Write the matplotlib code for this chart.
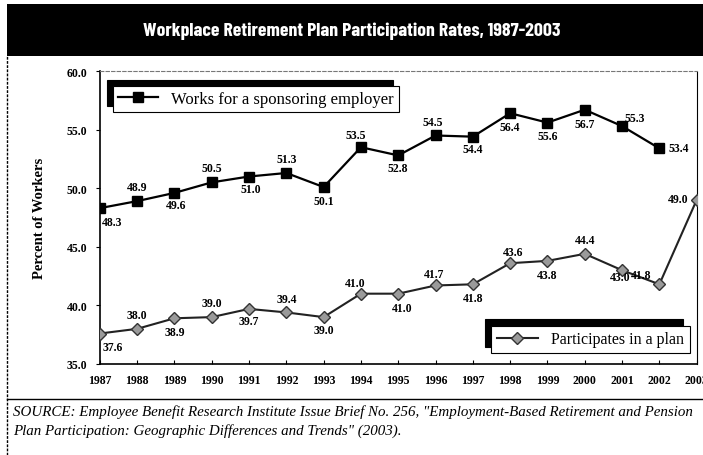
import matplotlib.pyplot as plt
import numpy as np

# chart data
years = [1987, 1988, 1989, 1990, 1991, 1992, 1993, 1994, 1995,
         1996, 1997, 1998, 1999, 2000, 2001, 2002, 2003]
sponsor_years = years[:-1]
sponsor_vals = [48.3, 48.9, 49.6, 50.5, 51.0, 51.3, 50.1, 53.5, 52.8,
                54.5, 54.4, 56.4, 55.6, 56.7, 55.3, 53.4]
plan_vals = [37.6, 38.0, 38.9, 39.0, 39.7, 39.4, 39.0, 41.0, 41.0,
             41.7, 41.8, 43.6, 43.8, 44.4, 43.0, 41.8, 49.0]
yticks = [35.0, 40.0, 45.0, 50.0, 55.0, 60.0]

title = "Workplace Retirement Plan Participation Rates, 1987-2003"
source_1 = ("SOURCE: Employee Benefit Research Institute Issue Brief No. 256, "
            "\"Employment-Based Retirement and Pension")
source_2 = "Plan Participation: Geographic Differences and Trends\" (2003)."

# where each value label sits relative to its marker (points)
sponsor_offsets = [(9, -10), (0, 10), (1, -9), (0, 10), (1, -9), (0, 10),
                   (0, -10), (-4, 9), (0, -9), (-2, 10), (0, -9), (0, -10),
                   (0, -10), (0, -10), (9, 6), (14, 0)]
plan_offsets = [(9, -10), (0, 10), (0, -10), (0, 10), (0, -9), (0, 10),
                (0, -9), (-4, 8), (3, -10), (-1, 8), (0, -10), (2, 8),
                (0, -10), (0, 10), (-1, -5), (-13, 7), (-13, 1)]

serif = "Liberation Serif"

fig = plt.figure(figsize=(7.03, 4.56), dpi=100)

# black title band
fig.patches.append(plt.Rectangle((0.01, 0.875), 0.99, 0.114, transform=fig.transFigure,
                                 facecolor="black", edgecolor="none"))
fig.text(0.5, 0.932, title, color="white", ha="center", va="center",
         fontsize=14.2, fontweight="bold", family=["Barlow Condensed", "DejaVu Sans"],
         fontstretch="condensed")

# frame lines around the chart area
fig.add_artist(plt.Line2D([0.01, 0.01], [0.0, 0.875], transform=fig.transFigure,
                          color="black", lw=1.0, ls=(0, (2, 1))))
fig.add_artist(plt.Line2D([0.01, 1.0], [0.123, 0.123], transform=fig.transFigure,
                          color="black", lw=1.0))

ax = fig.add_axes([0.142, 0.1996, 0.849, 0.6424])

ax.plot(sponsor_years, sponsor_vals, color="black", lw=1.6, marker="s",
        markersize=6.5, markerfacecolor="black", markeredgecolor="black",
        label="Works for a sponsoring employer", zorder=3)
ax.plot(years, plan_vals, color="#222222", lw=1.5, marker="D",
        markersize=6, markerfacecolor="#9a9a9a", markeredgecolor="#333333",
        label="Participates in a plan", zorder=3)

# value labels
for x, v, off in zip(sponsor_years, sponsor_vals, sponsor_offsets):
    ax.annotate(f"{v:.1f}", (x, v), xytext=off, textcoords="offset points",
                ha="center", va="center", fontsize=8.5, fontweight="bold",
                family=serif)
for x, v, off in zip(years, plan_vals, plan_offsets):
    ax.annotate(f"{v:.1f}", (x, v), xytext=off, textcoords="offset points",
                ha="center", va="center", fontsize=8.5, fontweight="bold",
                family=serif)

ax.set_xlim(years[0], years[-1])
ax.set_ylim(yticks[0], yticks[-1])
ax.set_xticks(years)
ax.set_xticklabels([str(y) for y in years])
ax.set_yticks(yticks)
ax.set_yticklabels([f"{t:.1f}" for t in yticks])
for lbl in ax.get_xticklabels() + ax.get_yticklabels():
    lbl.set_family(serif)
    lbl.set_fontweight("bold")
    lbl.set_fontsize(8.5)
ax.tick_params(axis="y", length=3, pad=6)
ax.tick_params(axis="x", length=3, pad=7, direction="in")
ax.set_ylabel("Percent of Workers", family=serif, fontweight="bold",
              fontsize=10.5, labelpad=15)

ax.spines["top"].set_linestyle((0, (3, 2)))
ax.spines["top"].set_color("#777777")
ax.spines["top"].set_linewidth(0.8)
ax.spines["right"].set_linestyle((0, (2, 1)))
ax.spines["right"].set_linewidth(0.8)
ax.spines["left"].set_linewidth(1.2)
ax.spines["bottom"].set_linewidth(1.2)

# two separate legends with a black shadow up and to the left
lines = ax.get_lines()
shadow = {"ox": -4.5, "oy": 4.5, "facecolor": "black", "edgecolor": "black", "alpha": 1}
leg1 = ax.legend([lines[0]], [lines[0].get_label()], loc="upper left",
                 bbox_to_anchor=(0.022, 0.948), prop={"family": serif, "size": 12},
                 frameon=True, fancybox=False, edgecolor="black", framealpha=1,
                 shadow=shadow, handlelength=2.4, borderpad=0.3,
                 borderaxespad=0)
leg1.get_frame().set_linewidth(0.8)
ax.add_artist(leg1)
leg2 = ax.legend([lines[1]], [lines[1].get_label()], loc="lower right",
                 bbox_to_anchor=(0.988, 0.038), prop={"family": serif, "size": 11.5},
                 frameon=True, fancybox=False, edgecolor="black", framealpha=1,
                 shadow=shadow, handlelength=2.6, borderpad=0.35,
                 borderaxespad=0)
leg2.get_frame().set_linewidth(0.8)

# source note
fig.text(0.018, 0.096, source_1, ha="left", va="center", fontsize=10.8,
         style="italic", family=serif)
fig.text(0.018, 0.054, source_2, ha="left", va="center", fontsize=10.8,
         style="italic", family=serif)

fig.savefig("out.png", dpi=100)
